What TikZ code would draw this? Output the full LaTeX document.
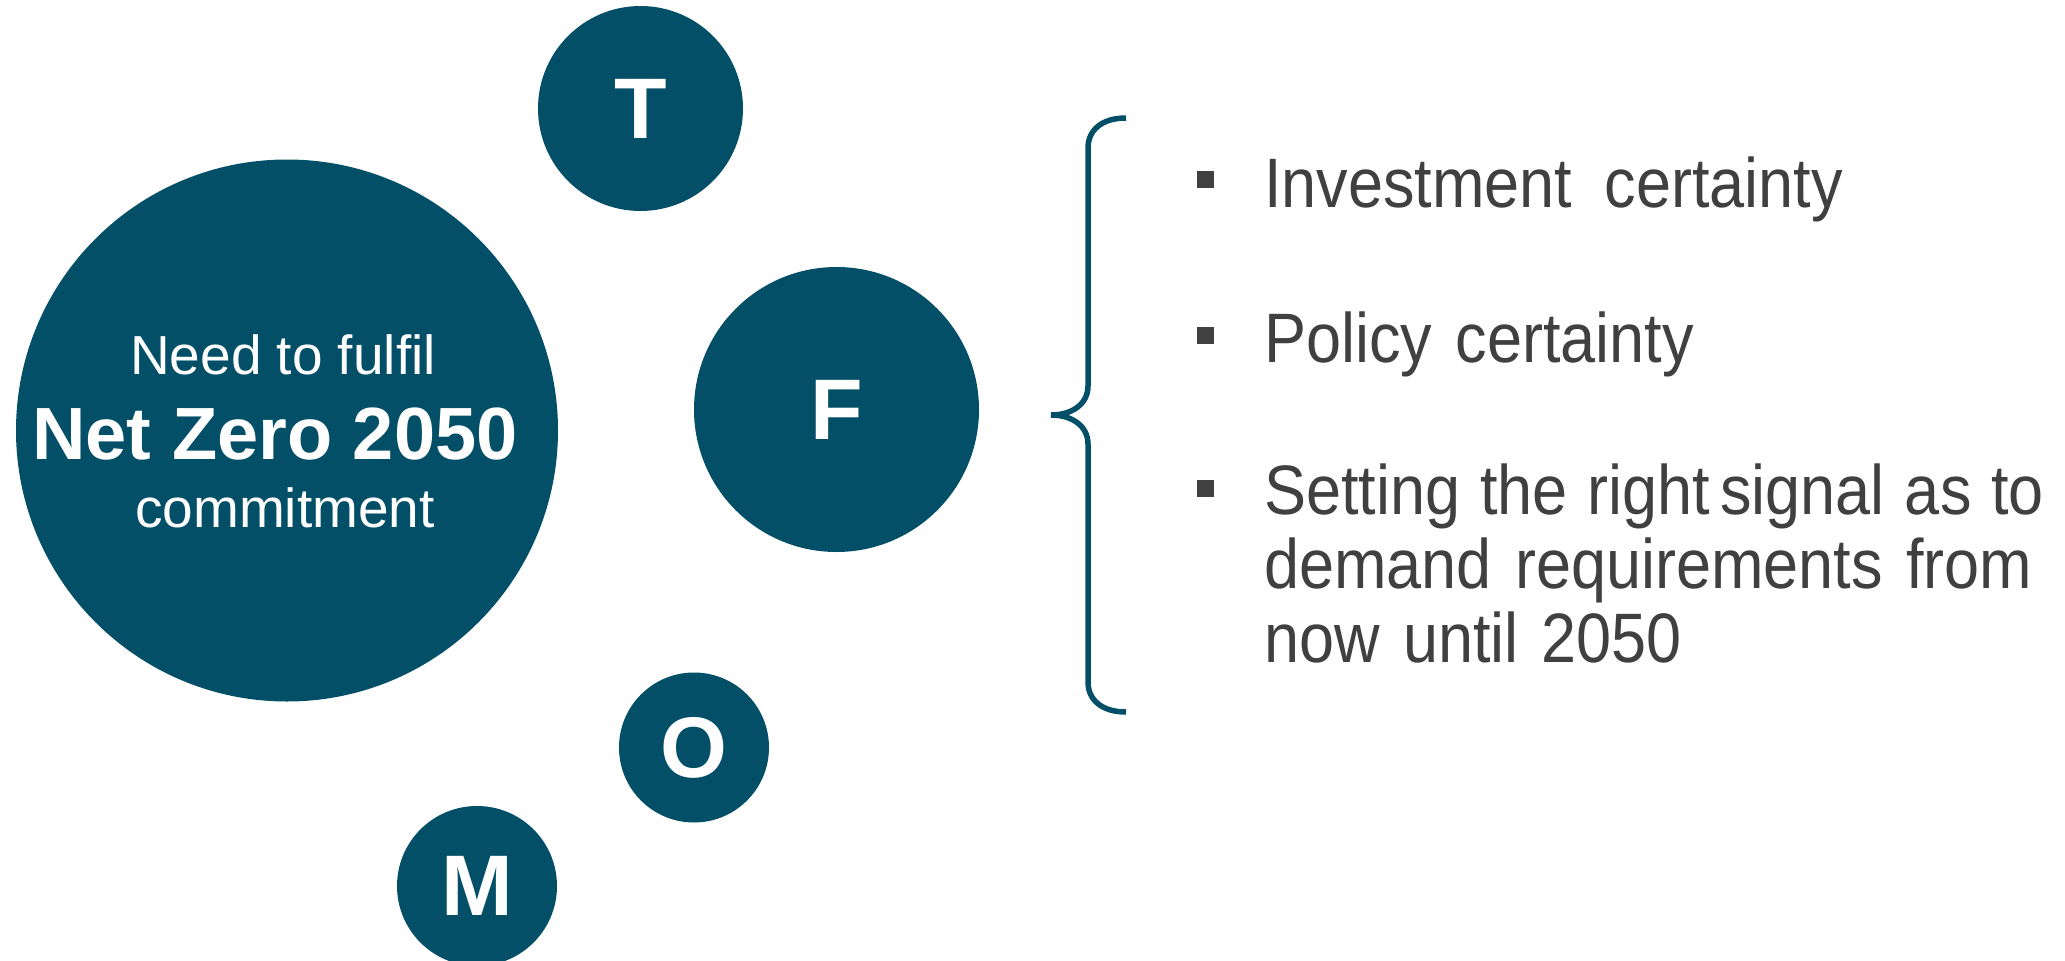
\documentclass[tikz,border=0pt]{standalone}
\usepackage{fontspec}
\setmainfont{Liberation Sans}
\newfontfamily\listfont[FakeStretch=0.90]{Liberation Sans}
\definecolor{teal}{RGB}{3,79,104}
\definecolor{ink}{RGB}{64,64,64}
\begin{document}
\begin{tikzpicture}[x=1pt,y=-1pt,
  disc/.style={circle,fill=teal,inner sep=0pt,text=white,font=\fontsize{86}{86}\selectfont\bfseries},
  lead/.style={text=white,inner sep=0pt,anchor=base},
  bullet/.style={rectangle,fill=ink,inner sep=0pt,minimum size=17pt},
  item/.style={text=ink,inner sep=0pt,anchor=base west,text width=800pt,align=left,
    font=\listfont\fontsize{70}{74}\selectfont},
  bracket/.style={draw=teal,line width=5.5pt}]
\useasboundingbox (0,0) rectangle (2065,961);
\clip (0,0) rectangle (2065,961);

% circles
\node[disc,minimum size=542pt] (big) at (287,430.5) {};
\node[disc,minimum size=205pt] (T) at (640.5,108.5) {T};
\node[disc,minimum size=285pt] (F) at (836.5,409.5) {F};
\node[disc,minimum size=150pt] (O) at (694,747.5) {O};
\node[disc,minimum size=160pt] (M) at (477,886) {M};

% text of the large circle
\node[lead,font=\fontsize{55}{55}\selectfont] (need) at (283,374) {Need to fulfil};
\node[lead,font=\fontsize{74}{74}\selectfont\bfseries] (nz) at (275,459) {Net Zero 2050};
\node[lead,font=\fontsize{55}{55}\selectfont] (commit) at (285,527) {commitment};

% curly bracket
\coordinate (bt) at (1126,118);
\coordinate (bm) at (1051,415);
\coordinate (bb) at (1126,712);
\draw[bracket] (bt) .. controls (1102,118) and (1088,130) .. (1088,148)
  -- (1088,386) .. controls (1088,404) and (1072,415) .. (bm)
  .. controls (1072,415) and (1088,426) .. (1088,444)
  -- (1088,682) .. controls (1088,700) and (1102,712) .. (bb);

% bullet list
\node[bullet] (b1) at (1205.5,179.5) {};
\node[bullet] (b2) at (1205.5,335.5) {};
\node[bullet] (b3) at (1205.5,488) {};
\node[item] (i1) at (1264,207) {Investment\hspace{9pt} certainty};
\node[item] (i2) at (1264,362) {Policy certainty};
\node[item] (i3) at (1264,514) {{\spaceskip=20pt Setting the right\hspace{10pt}signal as to}\\demand requirements from\\now until 2050};
\end{tikzpicture}
\end{document}
